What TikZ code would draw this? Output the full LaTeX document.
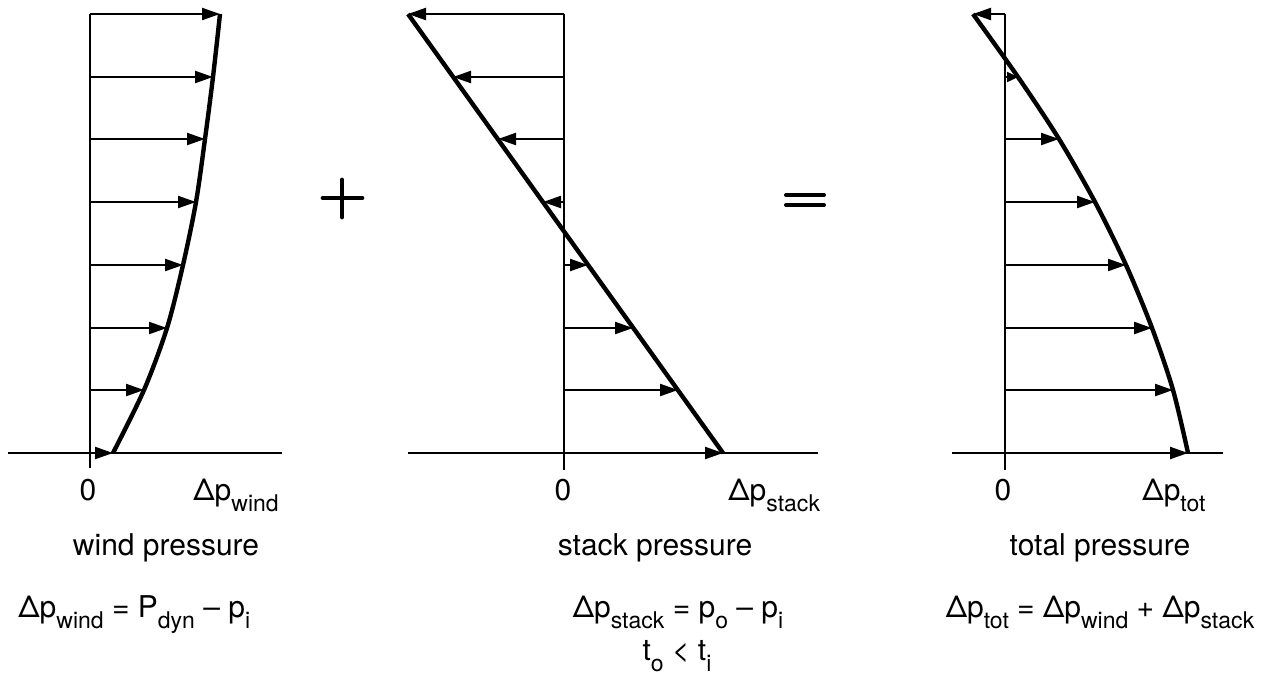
\documentclass[tikz,border=0pt]{standalone}
\usepackage{fontspec}
\setmainfont{TeX Gyre Heros}
\usepackage{tikz}
\usetikzlibrary{arrows.meta, positioning}
\newcommand{\lowsub}[1]{\raisebox{-5.5pt}{\fontsize{11.5}{12}\selectfont #1}}

\begin{document}
\begin{tikzpicture}[
  x=0.5pt, y=-0.5pt,
  >={Triangle[length=9pt,width=6pt]},
  every node/.style={inner sep=0pt, font=\fontsize{15}{18}\selectfont},
  axis/.style={line width=1.2pt, draw=black},
  level/.style={->, line width=1.1pt, draw=black},
  profile/.style={line width=2.2pt, draw=black, line join=round},
  opsign/.style={line width=2.4pt, draw=black, line cap=round},
  lbl/.style={anchor=base}
]
  \useasboundingbox (0,0) rectangle (1283,676);
  % ----- wind pressure -----
  \coordinate (Wtop) at (90,14);
  \coordinate (Wbot) at (90,468);
  \coordinate (Wl) at (8,453);
  \coordinate (Wr) at (282,453);
  \draw[axis] (Wtop) -- (Wbot);
  \draw[axis] (Wl) -- (Wr);
  \foreach \y/\x [count=\i] in {14/220,77/213,139/205,202/196,265/183,328/167,390/144,453/113} {
    \coordinate (W\i) at (90,\y);
    \coordinate (Wt\i) at (\x,\y);
    \draw[level] (W\i) -- (Wt\i);
  }
  \draw[profile] plot[smooth] coordinates {(Wt1) (Wt2) (Wt3) (Wt4) (Wt5) (Wt6) (Wt7) (Wt8)};
  % ----- plus -----
  \draw[opsign] (323,198) -- (362,198);
  \draw[opsign] (342,180) -- (342,217);
  % ----- stack pressure -----
  \coordinate (Stop) at (564,14);
  \coordinate (Sbot) at (564,470);
  \coordinate (Sl) at (408,453);
  \coordinate (Sr) at (818,453);
  \draw[axis] (Stop) -- (Sbot);
  \draw[axis] (Sl) -- (Sr);
  \foreach \y/\x [count=\i] in {14/408,77/453,139/498,202/543,265/588,328/633,390/678,453/723} {
    \coordinate (S\i) at (564,\y);
    \coordinate (St\i) at (\x,\y);
    \draw[level] (S\i) -- (St\i);
  }
  \draw[profile] (St1) -- (St8);
  % ----- equals -----
  \draw[opsign, line width=2pt] (786,195) -- (824,195);
  \draw[opsign, line width=2pt] (786,205) -- (824,205);
  % ----- total pressure -----
  \coordinate (Ttop) at (1005,14);
  \coordinate (Tbot) at (1005,470);
  \coordinate (Tl) at (952,453);
  \coordinate (Tr) at (1223,453);
  \draw[axis] (Ttop) -- (Tbot);
  \draw[axis] (Tl) -- (Tr);
  \foreach \y/\x [count=\i] in {14/973,77/1018,139/1059,202/1095,265/1126,328/1152,390/1173,453/1188} {
    \coordinate (T\i) at (1005,\y);
    \coordinate (Tt\i) at (\x,\y);
  }
  % short one near the zero crossing gets a smaller head
  \draw[level, >={Triangle[length=5.5pt,width=5pt]}] (T2) -- (Tt2);
  \foreach \i in {1,3,4,5,6,7,8} {
    \draw[level] (T\i) -- (Tt\i);
  }
  \draw[profile] plot[smooth] coordinates {(Tt1) (Tt2) (Tt3) (Tt4) (Tt5) (Tt6) (Tt7) (Tt8)};
  % ----- labels -----
  \node[lbl] (W0) at (88,500) {0};
  \node[anchor=base west] (Wax) at (193,500) {Δp\lowsub{wind}};
  \node[lbl] (Wname) at (166,555) {wind pressure};
  \node[anchor=base west] (Weq) at (18,617) {Δp\lowsub{wind} = P\lowsub{dyn} -- p\lowsub{i}};
  \node[lbl] (S0) at (563,500) {0};
  \node[anchor=base west] (Sax) at (728,500) {Δp\lowsub{stack}};
  \node[lbl] (Sname) at (655,555) {stack pressure};
  \node[lbl] (Seq) at (678,617) {Δp\lowsub{stack} = p\lowsub{o} -- p\lowsub{i}};
  \node[lbl] (Scond) at (677,660) {t\lowsub{o} < t\lowsub{i}};
  \node[lbl] (T0) at (1003,500) {0};
  \node[anchor=base west] (Tax) at (1142,500) {Δp\lowsub{tot}};
  \node[lbl] (Tname) at (1100,555) {total pressure};
  \node[lbl] (Teq) at (1100,617) {Δp\lowsub{tot} = Δp\lowsub{wind} + Δp\lowsub{stack}};
\end{tikzpicture}
\end{document}
